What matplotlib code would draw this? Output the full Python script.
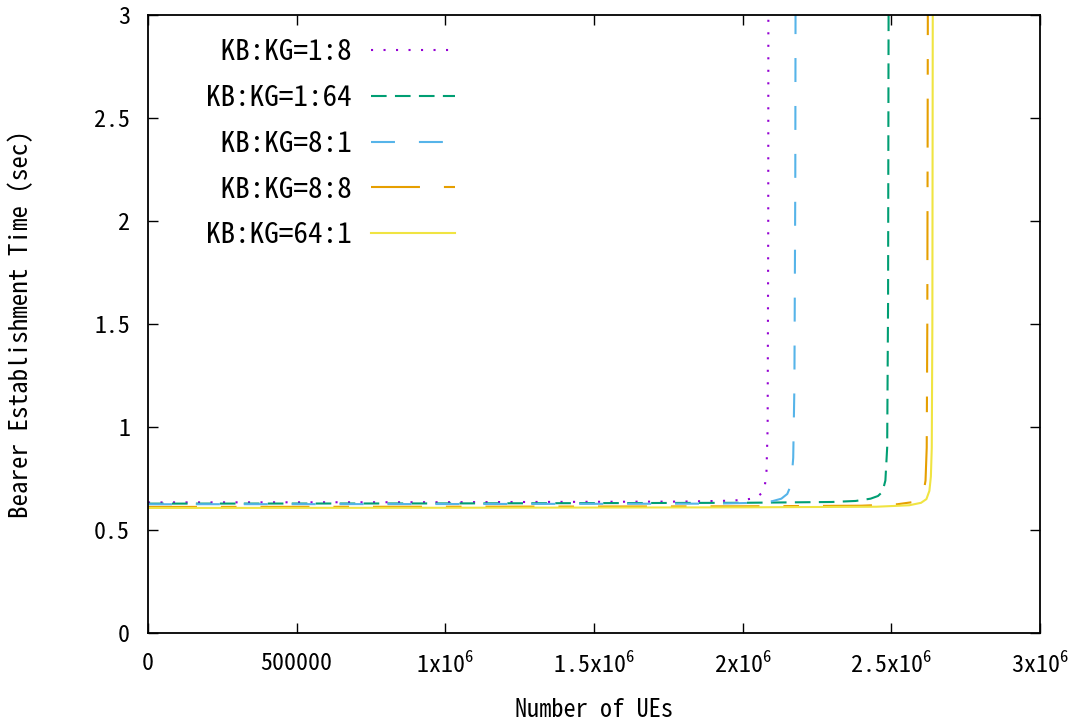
import matplotlib
matplotlib.use('Agg')
import matplotlib.pyplot as plt

plt.rcParams['font.family'] = ['Noto Sans Mono CJK JP', 'DejaVu Sans Mono']
plt.rcParams['mathtext.fontset'] = 'custom'
plt.rcParams['mathtext.rm'] = 'Noto Sans Mono CJK JP'

# data (x = number of UEs, y = seconds)
x_1_8 = [0, 1.0e6, 1.8e6, 1.95e6, 2.0e6, 2.03e6, 2.05e6, 2.065e6, 2.075e6, 2.08e6, 2.084e6, 2.086e6, 2.0865e6]
y_1_8 = [0.634, 0.635, 0.638, 0.642, 0.646, 0.652, 0.662, 0.68, 0.72, 0.78, 1.0, 2.0, 3.2]

x_1_64 = [0, 1.0e6, 2.0e6, 2.3e6, 2.38e6, 2.43e6, 2.455e6, 2.47e6, 2.48e6, 2.486e6, 2.489e6, 2.491e6]
y_1_64 = [0.628, 0.629, 0.632, 0.636, 0.641, 0.652, 0.665, 0.685, 0.74, 0.9, 1.6, 3.2]

x_8_1 = [0, 1.0e6, 1.9e6, 2.05e6, 2.1e6, 2.13e6, 2.15e6, 2.163e6, 2.17e6, 2.174e6, 2.177e6, 2.178e6]
y_8_1 = [0.625, 0.626, 0.628, 0.632, 0.64, 0.652, 0.675, 0.72, 0.85, 1.2, 2.2, 3.2]

x_8_8 = [0, 1.0e6, 2.0e6, 2.4e6, 2.52e6, 2.57e6, 2.595e6, 2.608e6, 2.615e6, 2.619e6, 2.621e6, 2.623e6]
y_8_8 = [0.612, 0.613, 0.615, 0.618, 0.625, 0.635, 0.652, 0.68, 0.74, 0.9, 1.5, 3.2]

x_64_1 = [0, 1.0e6, 2.0e6, 2.45e6, 2.56e6, 2.6e6, 2.618e6, 2.628e6, 2.633e6, 2.636e6, 2.638e6, 2.6395e6]
y_64_1 = [0.607, 0.608, 0.61, 0.613, 0.62, 0.632, 0.65, 0.69, 0.76, 0.9, 1.5, 3.2]

xticks = [0, 5e5, 1e6, 1.5e6, 2e6, 2.5e6, 3e6]
xtick_labels = ['0', '500000', '1x10$^6$', '1.5x10$^6$', '2x10$^6$', '2.5x10$^6$', '3x10$^6$']
yticks = [0, 0.5, 1, 1.5, 2, 2.5, 3]
ytick_labels = ['0', '0.5', '1', '1.5', '2', '2.5', '3']

fig = plt.figure(figsize=(10.8, 7.24), dpi=100)
ax = fig.add_axes([148/1080, 91/724, 892/1080, 618/724])

lw = 1.5
ax.plot(x_1_8, y_1_8, color='#9400D3', lw=lw, dashes=(1, 5), label=' KB:KG=1:8')
ax.plot(x_1_64, y_1_64, color='#009E73', lw=lw, dashes=(7.5, 4), label='KB:KG=1:64')
ax.plot(x_8_1, y_8_1, color='#56B4E9', lw=lw, dashes=(11.5, 11.5), label=' KB:KG=8:1')
ax.plot(x_8_8, y_8_8, color='#E69F00', lw=lw, dashes=(23.5, 11.5, 7.5, 11.5), label=' KB:KG=8:8')
ax.plot(x_64_1, y_64_1, color='#F0E442', lw=lw, label='KB:KG=64:1')

ax.set_xlim(0, 3e6)
ax.set_ylim(0, 3)
ax.set_xticks(xticks)
ax.set_xticklabels(xtick_labels)
ax.set_yticks(yticks)
ax.set_yticklabels(ytick_labels)
ax.tick_params(direction='in', length=7, width=1, top=True, right=True, labelsize=17.3)
ax.tick_params(axis='x', pad=14)
ax.tick_params(axis='y', pad=13)
for s in ax.spines.values():
    s.set_linewidth(1.3)

ax.set_xlabel('Number of UEs', fontsize=17.5, labelpad=14)
ax.set_ylabel('Bearer Establishment Time (sec)', fontsize=18, labelpad=44)

leg = ax.legend(loc='upper left', bbox_to_anchor=(0.0355, 1.005), frameon=False, markerfirst=False,
                fontsize=21, handlelength=2.88, handletextpad=0.65, labelspacing=0.61)

fig.savefig('out.png', dpi=100)
